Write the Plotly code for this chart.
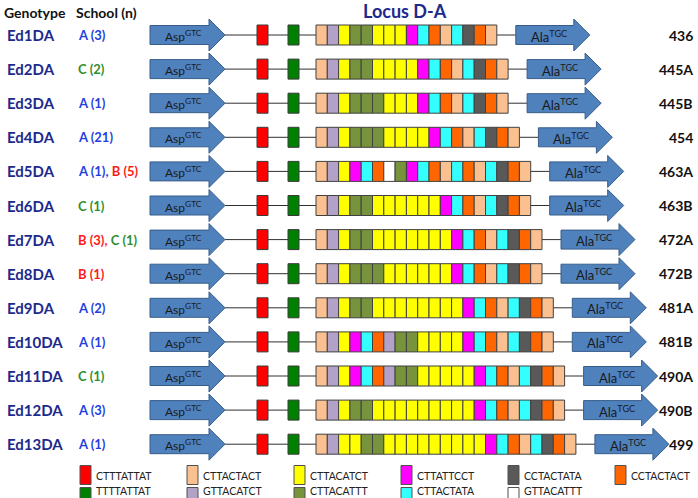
import plotly.graph_objects as go

# ---------------- data ----------------
genotypes = ["Ed1DA", "Ed2DA", "Ed3DA", "Ed4DA", "Ed5DA", "Ed6DA", "Ed7DA",
             "Ed8DA", "Ed9DA", "Ed10DA", "Ed11DA", "Ed12DA", "Ed13DA"]
schools = [[("A", 3)], [("C", 2)], [("A", 1)], [("A", 21)], [("A", 1), ("B", 5)],
           [("C", 1)], [("B", 3), ("C", 1)], [("B", 1)], [("A", 2)], [("A", 1)],
           [("C", 1)], [("A", 3)], [("A", 1)]]
allele_sizes = ["436", "445A", "445B", "454", "463A", "463B", "472A", "472B",
                "481A", "481B", "490A", "490B", "499"]
repeat_arrays = [
    "P L Y O O Y Y Y M C R P C D R P",
    "P L Y O O Y Y Y Y M C R P C D R P",
    "P L Y O O O Y Y Y M C R P C D R P",
    "P L Y O O O Y Y Y Y M C R P C D R P",
    "P L Y M C R W O M C R P C R P C D R P",
    "P L Y O O Y Y Y Y Y Y M C R P C D R P",
    "P L Y O O Y Y Y Y Y Y Y M C R P C D R P",
    "P L Y O O O Y Y Y Y Y Y M C R P C D R P",
    "P L Y O O Y Y Y Y Y Y Y Y M C R P C D R P",
    "P L Y M C R L O O Y Y Y Y M C R P C D R P",
    "P L Y M C R L O O Y Y Y Y Y M C R P C D R P",
    "P L Y O O Y Y Y Y Y Y Y Y Y M C R P C D R P",
    "P L Y Y O O Y Y Y Y Y Y Y Y Y M C R P C D R P",
]
motif_codes = ["F", "P", "Y", "M", "D", "R", "G", "L", "O", "C", "W"]
motif_names = ["CTTTATTAT", "CTTACTACT", "CTTACATCT", "CTTATTCCT", "CCTACTATA",
               "CCTACTACT", "TTTTATTAT", "GTTACATCT", "CTTACATTT", "CTTACTATA",
               "GTTACATTT"]
motif_colors = ["#ff0000", "#fac090", "#ffff00", "#ff00ff", "#595959", "#ff6600",
                "#008000", "#b3a2c7", "#77933c", "#33ffff", "#ffffff"]
school_colors = {"A": "#1f3fe0", "B": "#ff1a1a", "C": "#2f8f2f"}

# ---------------- layout constants ----------------
W, H = 698, 498
ROW0, ROW_STEP = 35.0, 34.1
BOX_H = 20
BLOCK_W = 11.3
REP_X0 = 316
ASP_X0, ASP_X1 = 150, 225
RED_X0, GREEN_X0, MARK_W = 257, 288, 11
ARROW_LEN, HEAD_LEN, BODY_HH, HEAD_HH = 74, 16, 9.5, 16
ALA_GAP = 19
ARROW_FILL, ARROW_LINE = "#4f81bd", "#385d8a"
color_of = dict(zip(motif_codes, motif_colors))

shapes, annotations = [], []


def arrow_path(x0, x1, yc):
    xh = x1 - HEAD_LEN
    return (f"M {x0},{yc-BODY_HH} L {xh},{yc-BODY_HH} L {xh},{yc-HEAD_HH} "
            f"L {x1},{yc} L {xh},{yc+HEAD_HH} L {xh},{yc+BODY_HH} L {x0},{yc+BODY_HH} Z")


def rect(x0, x1, y0, y1, fill, lc="#3a3a3a"):
    shapes.append(dict(type="rect", xref="x", yref="y", x0=x0, x1=x1, y0=y0, y1=y1,
                       fillcolor=fill, line=dict(color=lc, width=1)))


for i, g in enumerate(genotypes):
    yc = ROW0 + i * ROW_STEP
    codes = repeat_arrays[i].split()
    rep_end = REP_X0 + len(codes) * BLOCK_W
    ala_x0 = rep_end + ALA_GAP
    shapes.append(dict(type="line", xref="x", yref="y", x0=ASP_X1, x1=ala_x0, y0=yc, y1=yc,
                       line=dict(color="#303030", width=1)))
    shapes.append(dict(type="path", xref="x", yref="y", path=arrow_path(ASP_X0, ASP_X1, yc),
                       fillcolor=ARROW_FILL, line=dict(color=ARROW_LINE, width=1)))
    shapes.append(dict(type="path", xref="x", yref="y",
                       path=arrow_path(ala_x0, ala_x0 + ARROW_LEN, yc),
                       fillcolor=ARROW_FILL, line=dict(color=ARROW_LINE, width=1)))
    rect(RED_X0, RED_X0 + MARK_W, yc - BOX_H / 2, yc + BOX_H / 2, color_of["F"])
    rect(GREEN_X0, GREEN_X0 + MARK_W, yc - BOX_H / 2, yc + BOX_H / 2, color_of["G"])
    for k, c in enumerate(codes):
        x0 = REP_X0 + k * BLOCK_W
        rect(x0, x0 + BLOCK_W, yc - BOX_H / 2, yc + BOX_H / 2, color_of[c], "#404040")
    annotations.append(dict(x=(ASP_X0 + ASP_X1 - HEAD_LEN) / 2 + 4, y=yc + 1, xref="x", yref="y",
                            text="Asp<sup>GTC</sup>", showarrow=False,
                            font=dict(family="Lato", size=12, color="#1a1a1a")))
    annotations.append(dict(x=ala_x0 + (ARROW_LEN - HEAD_LEN) / 2 + 4, y=yc + 1, xref="x", yref="y",
                            text="Ala<sup>TGC</sup>", showarrow=False,
                            font=dict(family="Lato", size=13, color="#1a1a1a")))
    annotations.append(dict(x=5, y=yc, xref="x", yref="y", text=f"<b>{g}</b>", showarrow=False,
                            xanchor="left", font=dict(family="Lato", size=15, color="#1c2a8c")))
    parts = []
    for j, (s, n) in enumerate(schools[i]):
        sep = "," if j < len(schools[i]) - 1 else ""
        parts.append(f'<span style="color:{school_colors[s]}">{s} ({n}){sep}</span>')
    annotations.append(dict(x=76, y=yc, xref="x", yref="y", text="<b>" + " ".join(parts) + "</b>",
                            showarrow=False, xanchor="left",
                            font=dict(family="Lato", size=13, color="#1f3fe0")))
    annotations.append(dict(x=695, y=yc, xref="x", yref="y", text=f"<b>{allele_sizes[i]}</b>",
                            showarrow=False, xanchor="right",
                            font=dict(family="Lato", size=14, color="#111111")))

annotations.append(dict(x=2, y=12, xref="x", yref="y", text="<b>Genotype</b>", showarrow=False,
                        xanchor="left", font=dict(family="Lato", size=14, color="#111111")))
annotations.append(dict(x=74, y=12, xref="x", yref="y", text="<b>School (n)</b>", showarrow=False,
                        xanchor="left", font=dict(family="Lato", size=14, color="#111111")))
annotations.append(dict(x=405, y=11, xref="x", yref="y", text="<b>Locus D-A</b>", showarrow=False,
                        font=dict(family="Lato", size=18, color="#1c2a8c")))

# legend
LEG_X0, LEG_STEP = 80, 107
LEG_BOX_Y = [475, 497]
LEG_TXT_Y = [476, 491]
LEG_BOX_W, LEG_BOX_H = 11, 19
for idx, (c, name) in enumerate(zip(motif_codes, motif_names)):
    r = 0 if idx < 6 else 1
    col = idx if idx < 6 else idx - 6
    x0 = LEG_X0 + col * LEG_STEP
    yb = LEG_BOX_Y[r]
    rect(x0, x0 + LEG_BOX_W, yb - LEG_BOX_H / 2, yb + LEG_BOX_H / 2, color_of[c], "#505050")
    annotations.append(dict(x=x0 + 14, y=LEG_TXT_Y[r], xref="x", yref="y", text=name,
                            showarrow=False, xanchor="left",
                            font=dict(family="Lato", size=10.5, color="#222222")))

fig = go.Figure()
fig.update_layout(
    width=W, height=H, margin=dict(l=0, r=0, t=0, b=0),
    paper_bgcolor="white", plot_bgcolor="white",
    xaxis=dict(range=[0, W], visible=False, fixedrange=True),
    yaxis=dict(range=[H, 0], visible=False, fixedrange=True),
    shapes=shapes, annotations=annotations, showlegend=False,
)
fig.write_html("out.html", post_script="document.body.style.margin='0px';",
               config={"displayModeBar": False})
